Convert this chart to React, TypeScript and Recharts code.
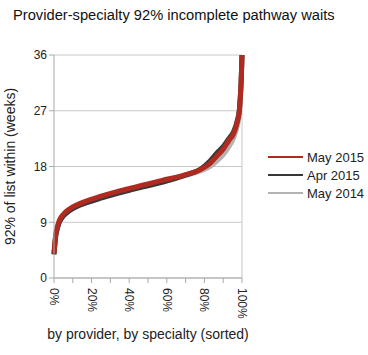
import React from 'react'
import { LineChart, Line, XAxis, YAxis, CartesianGrid, ReferenceLine } from 'recharts'

const yTicks = [0, 9, 18, 27, 36]
const xTicks = [0, 10, 20, 30, 40, 50, 60, 70, 80, 90, 100]

const pctMay15 = [0, 1, 2, 3, 5, 8, 12, 16, 25, 33, 42, 50, 58, 64, 70, 78, 83, 87, 90, 93, 95.5, 97.5, 98.6, 99, 99.5, 99.8, 100]
const valMay15 = [4, 7.2, 8.5, 9.4, 10.3, 11.1, 11.8, 12.3, 13.2, 13.9, 14.6, 15.2, 15.8, 16.2, 16.7, 17.5, 18.5, 19.8, 20.8, 22.2, 23.3, 25.2, 27, 28.7, 31.4, 34, 36]

const pctApr15 = [0, 1, 2, 3, 5, 8, 12, 16, 25, 33, 42, 50, 58, 64, 70, 78, 83, 87, 90, 93, 95.5, 97.5, 98.6, 99, 99.5, 99.8, 100]
const valApr15 = [3.8, 6.9, 8.2, 9.1, 10, 10.8, 11.5, 12, 12.9, 13.6, 14.3, 14.9, 15.5, 16, 16.6, 17.6, 18.9, 20.3, 21.2, 22.5, 23.6, 25.4, 27.2, 28.8, 31.4, 34, 36]

const pctMay14 = [0, 1, 2, 3, 5, 8, 12, 16, 25, 33, 42, 50, 58, 64, 70, 78, 83, 87, 90, 93, 95.5, 97.5, 98.6, 99, 99.5, 99.8, 100]
const valMay14 = [3.9, 7, 8.3, 9.2, 10.1, 10.9, 11.6, 12.1, 13, 13.7, 14.4, 15, 15.6, 16.1, 16.6, 17.3, 18, 19, 19.9, 21.2, 22.6, 24.6, 26.5, 28.2, 31, 33.8, 36]

const toRows = (xs: number[], ys: number[]) => xs.map((x, i) => ({ x, v: ys[i] }))

const series = [
  { name: 'May 2014', color: '#b3b3b3', rows: toRows(pctMay14, valMay14) },
  { name: 'Apr 2015', color: '#383838', rows: toRows(pctApr15, valApr15) },
  { name: 'May 2015', color: '#b02a1f', rows: toRows(pctMay15, valMay15) }
]

const FONT = "'Liberation Sans', Arial, sans-serif"

const XTick = (props: any) => {
  const { x, y, payload } = props
  if (payload.value % 20 !== 0) return null
  return (
    <text
      x={x}
      y={y}
      transform={`rotate(90, ${x}, ${y})`}
      dx={3}
      dy={4}
      textAnchor="start"
      fontSize={12}
      fill="#222"
      fontFamily={FONT}
    >
      {payload.value}%
    </text>
  )
}

export default function App() {
  const legendItems = [...series].reverse()
  return (
    <div style={{ position: 'absolute', left: 0, top: 0, width: 368, height: 355, background: '#fff' }}>
      <div
        style={{
          position: 'absolute',
          left: 13,
          top: 7,
          fontFamily: FONT,
          fontSize: 14.7,
          color: '#111',
          whiteSpace: 'nowrap'
        }}
      >
        Provider-specialty 92% incomplete pathway waits
      </div>
      <LineChart width={368} height={355} margin={{ top: 55, right: 126, bottom: 0, left: 0 }}>
        <CartesianGrid vertical={false} stroke="#c8c8c8" />
        <ReferenceLine x={100} stroke="#c8c8c8" />
        <XAxis
          type="number"
          dataKey="x"
          domain={[0, 100]}
          ticks={xTicks}
          tick={<XTick />}
          interval={0}
          stroke="#aaa"
          tickSize={5}
          height={77}
        />
        <YAxis
          type="number"
          domain={[0, 36]}
          ticks={yTicks}
          interval={0}
          width={54}
          stroke="#aaa"
          tickSize={5}
          tick={{ fontSize: 12, fill: '#222', fontFamily: FONT }}
          label={{ value: '92% of list within (weeks)', angle: -90, position: 'insideLeft', offset: 10, fontSize: 14, fill: '#222', fontFamily: FONT, style: { textAnchor: 'middle' } }}
        />
        {series.map((s) => (
          <Line
            key={s.name}
            data={s.rows}
            dataKey="v"
            name={s.name}
            type="monotone"
            stroke={s.color}
            strokeWidth={5}
            dot={false}
            isAnimationActive={false}
          />
        ))}
      </LineChart>
      <div
        style={{
          position: 'absolute',
          left: 0,
          width: 296,
          top: 326,
          textAlign: 'center',
          fontFamily: FONT,
          fontSize: 14,
          color: '#222'
        }}
      >
        by provider, by specialty (sorted)
      </div>
      <div style={{ position: 'absolute', left: 268, top: 148, fontFamily: FONT, fontSize: 13, color: '#222' }}>
        {legendItems.map((s) => (
          <div key={s.name} style={{ display: 'flex', alignItems: 'center', height: 18 }}>
            <div style={{ width: 35, height: 2.5, background: s.color, marginRight: 4 }} />
            <span>{s.name}</span>
          </div>
        ))}
      </div>
    </div>
  )
}
